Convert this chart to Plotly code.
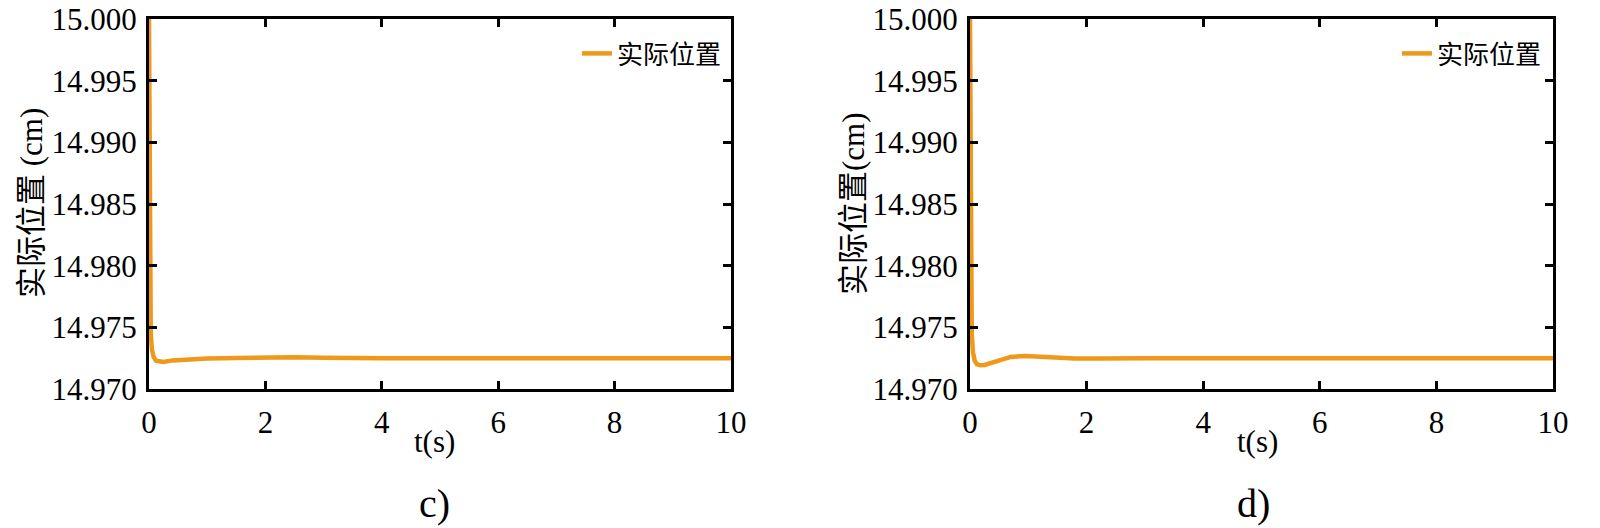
import plotly.graph_objects as go

# --- DATA ---
t_c = [0, 0.01, 0.02, 0.03, 0.05, 0.08, 0.12, 0.18, 0.25, 0.4, 0.6, 1.0, 1.5, 2.0, 2.5,
       3.0, 3.5, 4, 5, 6, 7, 8, 9, 10]
pos_c = [15.000, 14.992, 14.980, 14.9745, 14.9732, 14.9726, 14.9723, 14.97222, 14.9722,
         14.97232, 14.9724, 14.97248, 14.97252, 14.97256, 14.97257, 14.97254, 14.9725,
         14.9725, 14.9725, 14.9725, 14.97252, 14.9725, 14.9725, 14.9725]

t_d = [0, 0.01, 0.02, 0.03, 0.05, 0.08, 0.12, 0.18, 0.25, 0.35, 0.5, 0.7, 0.95, 1.2,
       1.5, 1.8, 2.2, 2.5, 3, 4, 5, 6, 7, 8, 9, 10]
pos_d = [15.000, 14.990, 14.979, 14.9745, 14.9730, 14.9723, 14.9720, 14.97192, 14.97195,
         14.9721, 14.97235, 14.9726, 14.97268, 14.97262, 14.97252, 14.97247, 14.97248,
         14.9725, 14.9725, 14.9725, 14.9725, 14.9725, 14.9725, 14.9725, 14.9725, 14.9725]

series_name = "实际位置"
y_ticks = [14.970, 14.975, 14.980, 14.985, 14.990, 14.995, 15.000]

C_LINE = "#F0981A"
FONT = "Liberation Serif, Times New Roman, Noto Sans CJK SC"
W, H = 1600, 528


def px(x):
    return x / W


def py(y):
    return 1 - y / H


fig = go.Figure()
fig.add_trace(go.Scatter(x=t_c, y=pos_c, mode="lines", name=series_name,
                         line=dict(color=C_LINE, width=4.5), xaxis="x", yaxis="y",
                         legend="legend"))
fig.add_trace(go.Scatter(x=t_d, y=pos_d, mode="lines", name=series_name,
                         line=dict(color=C_LINE, width=4.5), xaxis="x2", yaxis="y2",
                         legend="legend2"))

# panel boxes in page pixels (left, right, top, bottom)
panels = [(149, 731, 19, 389), (970, 1553, 19, 389)]

axis_common = dict(showline=True, linecolor="black", linewidth=3, mirror="allticks",
                   ticks="inside", ticklen=8, tickwidth=3, tickcolor="black",
                   showgrid=False, zeroline=False, automargin=False,
                   ticklabeloverflow="allow",
                   tickfont=dict(family=FONT, size=31, color="black"))

for i, (l, r, tp, b) in enumerate(panels):
    sfx = "" if i == 0 else "2"
    fig.update_layout({
        f"xaxis{sfx}": dict(axis_common, domain=[px(l), px(r)], range=[0, 10], dtick=2,
                            anchor=f"y{sfx}", ticklabelstandoff=4),
        f"yaxis{sfx}": dict(axis_common, domain=[py(b), py(tp)],
                            range=[14.970, 15.000], tickvals=y_ticks, tickformat=".3f",
                            anchor=f"x{sfx}", ticklabelstandoff=3),
    })

fig.update_layout(
    template="simple_white",
    width=W, height=H, autosize=False,
    margin=dict(l=0, r=0, t=0, b=0),
    paper_bgcolor="white", plot_bgcolor="white",
    font=dict(family=FONT, color="black"),
    showlegend=True,
    legend=dict(x=px(727), y=py(30), xanchor="right", yanchor="top",
                bgcolor="rgba(0,0,0,0)", font=dict(size=26, family=FONT)),
    legend2=dict(x=px(1547), y=py(30), xanchor="right", yanchor="top",
                 bgcolor="rgba(0,0,0,0)", font=dict(size=26, family=FONT)),
)

# axis titles and panel labels
texts = [
    (31, 203, "实际位置 (cm)", -90, 31),
    (853, 203, "实际位置(cm)", -90, 31),
    (434, 441, "t(s)", 0, 31),
    (1257, 441, "t(s)", 0, 31),
    (434, 503, "c)", 0, 40),
    (1253, 503, "d)", 0, 40),
]
for x, y, txt, ang, sz in texts:
    fig.add_annotation(x=px(x), y=py(y), xref="paper", yref="paper", text=txt,
                       textangle=ang, showarrow=False, xanchor="center", yanchor="middle",
                       font=dict(family=FONT, size=sz, color="black"))

# drop the default body margin so the figure fills the window exactly
fig.write_html("out.html", config={"displayModeBar": False},
               post_script="document.body.style.margin='0px';")
